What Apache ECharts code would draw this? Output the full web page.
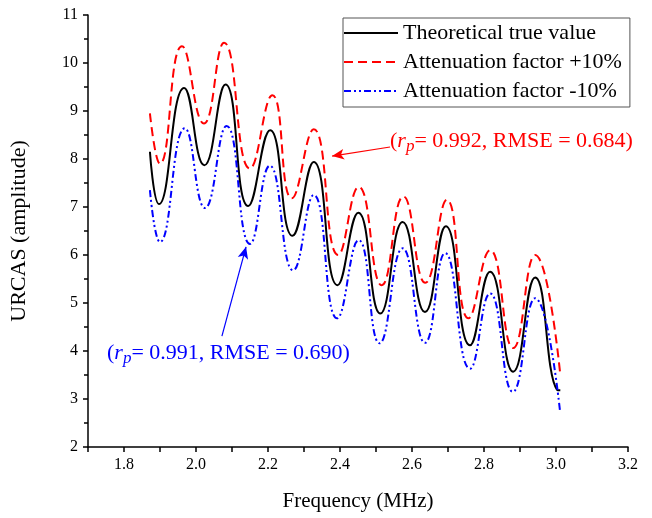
<!DOCTYPE html>
<html><head><meta charset="utf-8">
<script src="https://cdn.jsdelivr.net/npm/echarts@6/dist/echarts.min.js"></script>
<style>html,body{margin:0;padding:0;background:#fff}#c{width:652px;height:518px}</style>
</head><body><div id="c"></div>
<script>
// Frequency (MHz) / amplitude pairs
const trueFreq = [1.872,1.897,1.967,2.023,2.082,2.145,2.206,2.268,2.327,2.393,2.451,2.512,2.574,2.636,2.694,2.761,2.817,2.881,2.942,3.003,3.012];
const trueVal  = [8.15,7.06,9.48,7.87,9.55,7.02,8.60,6.40,7.94,5.37,6.88,4.78,6.69,4.81,6.60,4.12,5.65,3.57,5.53,3.19,3.18];
const plusFreq = [1.872,1.900,1.961,2.022,2.078,2.150,2.212,2.266,2.327,2.395,2.452,2.516,2.576,2.637,2.697,2.757,2.817,2.881,2.942,3.011];
const plusVal  = [8.95,7.90,10.35,8.74,10.42,7.80,9.33,7.18,8.62,6.00,7.42,5.37,7.22,5.42,7.15,4.68,6.10,4.06,6.00,3.57];
const minusFreq = [1.872,1.900,1.969,2.025,2.085,2.150,2.205,2.270,2.327,2.392,2.452,2.510,2.574,2.636,2.692,2.761,2.817,2.880,2.942,3.011];
const minusVal  = [7.35,6.27,8.64,6.98,8.69,6.23,7.86,5.68,7.25,4.68,6.31,4.16,6.14,4.17,6.04,3.63,5.20,3.15,5.10,2.76];
const seriesNames = ['Theoretical true value','Attenuation factor +10%','Attenuation factor -10%'];
const xTicks = [1.8,2.0,2.2,2.4,2.6,2.8,3.0,3.2];
const redArrow = [[2.539,8.25],[2.378,8.06]];
const blueArrow = [[2.072,4.31],[2.139,6.17]];

const zip = (a,b)=>a.map((v,i)=>[v,b[i]]);
const serif = '"Liberation Serif","DejaVu Serif",serif';
const chart = echarts.init(document.getElementById('c'));
chart.setOption({
  backgroundColor:'#fff',
  animation:false,
  grid:{left:88,right:24,top:15,bottom:71},
  legend:{
    left:343, top:18, orient:'vertical',
    borderColor:'#555', borderWidth:1, padding:[4,8,5,0],
    itemWidth:54, itemHeight:12, itemGap:7,
    itemStyle:{opacity:0},
    textStyle:{fontFamily:serif,fontSize:22,color:'#000'},
    data:seriesNames
  },
  xAxis:{
    type:'value', min:1.7, max:3.2, interval:0.1,
    name:'Frequency (MHz)', nameLocation:'middle', nameGap:44,
    nameTextStyle:{fontFamily:serif,fontSize:21,color:'#000'},
    axisLine:{lineStyle:{color:'#000',width:1.5}},
    axisTick:{inside:false,length:5,lineStyle:{color:'#000',width:1.5}},
    axisLabel:{fontFamily:serif,fontSize:16,color:'#000',margin:10,
      formatter:v=>{return xTicks.some(t=>Math.abs(t-v)<1e-6)? v.toFixed(1):'';}},
    splitLine:{show:false}
  },
  yAxis:{
    type:'value', min:2, max:11, interval:1,
    name:'URCAS (amplitude)', nameLocation:'middle', nameGap:58,
    nameTextStyle:{fontFamily:serif,fontSize:22,color:'#000'},
    axisLine:{show:true,lineStyle:{color:'#000',width:1.5}},
    axisTick:{show:true,inside:false,length:5,lineStyle:{color:'#000',width:1.5}},
    minorTick:{show:true,splitNumber:2,length:4,lineStyle:{color:'#000',width:1.5}},
    axisLabel:{fontFamily:serif,fontSize:16,color:'#000',margin:10},
    splitLine:{show:false}
  },
  series:[
    {name:seriesNames[0],type:'line',data:zip(trueFreq,trueVal),smooth:0.5,symbol:'none',
     lineStyle:{color:'#000',width:2},itemStyle:{color:'#000'}},
    {name:seriesNames[1],type:'line',data:zip(plusFreq,plusVal),smooth:0.5,symbol:'none',
     lineStyle:{color:'#ff0000',width:2,type:[9,5]},itemStyle:{color:'#ff0000'},
     markLine:{silent:true,symbol:['none','arrow'],symbolSize:[8,12],label:{show:false},
       lineStyle:{color:'#ff0000',width:1.2,type:'solid'},
       data:[[{coord:redArrow[0]},{coord:redArrow[1]}]]}},
    {name:seriesNames[2],type:'line',data:zip(minusFreq,minusVal),smooth:0.5,symbol:'none',
     lineStyle:{color:'#0000ff',width:2,type:[7,3,2,3,2,3]},itemStyle:{color:'#0000ff'},
     markLine:{silent:true,symbol:['none','arrow'],symbolSize:[8,12],label:{show:false},
       lineStyle:{color:'#0000ff',width:1.2,type:'solid'},
       data:[[{coord:blueArrow[0]},{coord:blueArrow[1]}]]}}
  ]
});
function annot(x,y,color,r,rm){
  return {type:'text',left:x,top:y,style:{
    rich:{
      n:{fontFamily:serif,fontSize:22,fill:color},
      i:{fontFamily:serif,fontSize:22,fontStyle:'italic',fill:color},
      s:{fontFamily:serif,fontSize:17,fontStyle:'italic',fill:color,padding:[11,0,0,0]}
    },
    text:'{n|(}{i|r}{s|p}{n|= '+r+', RMSE = '+rm+')}'
  }};
}
chart.setOption({graphic:[
  annot(390,130,'#ff0000','0.992','0.684'),
  annot(107,342,'#0000ff','0.991','0.690')
]});
</script></body></html>
